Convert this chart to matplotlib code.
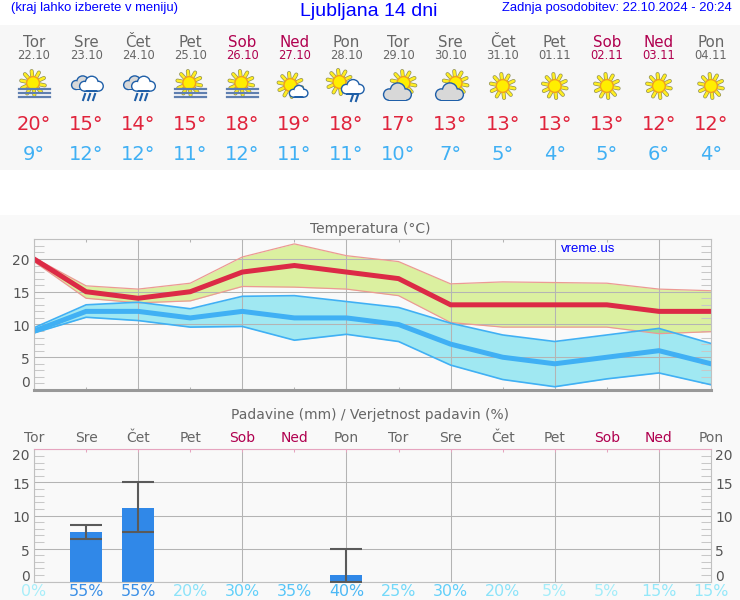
import matplotlib
matplotlib.use("Agg")
import matplotlib.pyplot as plt
import matplotlib.patches as mpatches
from matplotlib.transforms import ScaledTranslation
import numpy as np

days = ['Tor', 'Sre', 'Čet', 'Pet', 'Sob', 'Ned', 'Pon', 'Tor', 'Sre', 'Čet', 'Pet', 'Sob', 'Ned', 'Pon']
dates = ['22.10', '23.10', '24.10', '25.10', '26.10', '27.10', '28.10',
         '29.10', '30.10', '31.10', '01.11', '02.11', '03.11', '04.11']
icons = ['fog', 'rain', 'rain', 'fog', 'fog', 'suncloud', 'sunrain',
         'cloudsun', 'cloudsun', 'sun', 'sun', 'sun', 'sun', 'sun']

tmax = [20, 15, 14, 15, 18, 19, 18, 17, 13, 13, 13, 13, 12, 12]
tmin = [9, 12, 12, 11, 12, 11, 11, 10, 7, 5, 4, 5, 6, 4]
tmax_hi = [20.2, 15.9, 15.4, 16.3, 20.3, 22.3, 20.5, 19.6, 16.2, 16.5, 16.4, 16.3, 15.4, 15.15]
tmax_lo = [19.6, 14.0, 13.3, 13.6, 15.8, 15.7, 15.4, 14.4, 10.3, 9.6, 9.6, 9.6, 8.6, 8.9]
tmin_hi = [9.5, 13.0, 13.4, 12.4, 14.3, 14.4, 13.5, 12.6, 10.2, 8.4, 7.4, 8.4, 9.4, 7.1]
tmin_lo = [8.7, 11.1, 10.6, 9.6, 9.7, 7.6, 8.5, 7.4, 3.8, 1.6, 0.5, 1.7, 2.6, 0.8]

rain = [0, 7.5, 11.2, 0, 0, 0, 1, 0, 0, 0, 0, 0, 0, 0]
rain_idx = [1, 2, 6]
rain_low = [6.5, 7.5, 0]
rain_high = [8.5, 15, 5]
prob = [0, 55, 55, 20, 30, 35, 40, 25, 30, 20, 5, 5, 15, 15]
prob_col = {0: '#a8eef9', 5: '#a4edf9', 15: '#94e8f9', 20: '#8be3f9', 25: '#72d9fa',
            30: '#62d0fa', 35: '#56c5f8', 40: '#4cb8f5', 55: '#3a8fe6'}

DAY_GREY = '#666666'
WEEKEND = '#b0004f'
BLUE = '#0000ff'
x_px = 34 + np.arange(14) * 677 / 13

fig = plt.figure(figsize=(7.4, 6), dpi=100, facecolor='white')

# page background, header and icons are drawn in pixel coordinates
bg = fig.add_axes([0, 0, 1, 1], zorder=0)
bg.set_xlim(0, 740)
bg.set_ylim(600, 0)
bg.axis('off')
bg.add_patch(mpatches.Rectangle((0, 25), 740, 145, color='#f7f7f7', lw=0))
bg.add_patch(mpatches.Rectangle((0, 215), 740, 385, color='#f9f9f9', lw=0))

bg.text(11, 8.5, '(kraj lahko izberete v meniju)', color=BLUE, fontsize=9.4,
        family='Liberation Sans', va='center')
bg.text(369, 11, 'Ljubljana 14 dni', color=BLUE, fontsize=14,
        family='Liberation Sans', va='center', ha='center')
bg.text(732, 8.5, 'Zadnja posodobitev: 22.10.2024 - 20:24', color=BLUE, fontsize=9.4,
        family='Liberation Sans', va='center', ha='right')


def sun(cx, cy, r=6, ray=12):
    for a in np.arange(0, 2 * np.pi, 2 * np.pi / 10) + 0.2:
        xs = [cx + r * np.cos(a), cx + ray * np.cos(a)]
        ys = [cy + r * np.sin(a), cy + ray * np.sin(a)]
        bg.plot(xs, ys, color='#8f8f55', lw=2.9, solid_capstyle='round', zorder=3)
        bg.plot(xs, ys, color='#ffee22', lw=1.9, solid_capstyle='round', zorder=3.1)
    bg.add_patch(mpatches.Circle((cx, cy), r + 0.4, fc='#ffee00', ec='#f0a020', lw=1, zorder=3.2))


def cloud(cx, cy, w, fc='white', ec='#1f5fa8', z=4):
    lobes = [(-0.3, 0.1, 0.2), (0.03, -0.06, 0.27), (0.33, 0.1, 0.2)]
    for dx, dy, r in lobes:
        bg.add_patch(mpatches.Circle((cx + dx * w, cy + dy * w), r * w + 1.2, fc=ec, lw=0, zorder=z))
    bg.add_patch(mpatches.Rectangle((cx - 0.3 * w, cy + 0.1 * w), 0.63 * w, 0.2 * w + 1.2, fc=ec, lw=0, zorder=z))
    for dx, dy, r in lobes:
        bg.add_patch(mpatches.Circle((cx + dx * w, cy + dy * w), r * w - 0.2, fc=fc, lw=0, zorder=z + 0.1))
    bg.add_patch(mpatches.Rectangle((cx - 0.3 * w, cy + 0.1 * w), 0.63 * w, 0.2 * w - 0.2, fc=fc, lw=0, zorder=z + 0.1))


def drops(cx, cy, n):
    for k in range(n):
        x0 = cx + (k - (n - 1) / 2) * 5
        bg.plot([x0 + 1, x0 - 1], [cy, cy + 6], color='#1f5fa8', lw=1.5, zorder=5)


def icon(kind, x):
    if kind == 'sun':
        sun(x, 86)
    elif kind == 'fog':
        sun(x - 1, 83)
        for y in [89, 93, 97]:
            bg.plot([x - 15, x + 16], [y, y], color='#5f7fb0', lw=1.6, zorder=4)
    elif kind == 'rain':
        cloud(x - 4, 83, 20, fc='#d8d8d8', z=3)
        cloud(x + 5, 84, 22, z=4)
        drops(x + 3, 94, 3)
    elif kind == 'suncloud':
        sun(x - 4, 85)
        cloud(x + 4, 91.5, 17)
    elif kind == 'sunrain':
        sun(x - 7, 82)
        cloud(x + 6, 87, 21)
        drops(x + 8, 95, 2)
    elif kind == 'cloudsun':
        sun(x + 5, 83)
        cloud(x - 1.5, 92, 26, fc='#d8d8d8')


for i, x in enumerate(x_px):
    col = WEEKEND if days[i] in ('Sob', 'Ned') else DAY_GREY
    bg.text(x, 42.5, days[i], color=col, fontsize=10.8, ha='center', va='center')
    bg.text(x, 55.5, dates[i], color=col, fontsize=8.3, ha='center', va='center')
    icon(icons[i], x)
    bg.text(x, 124, '%d°' % tmax[i], color='#e0243c', fontsize=14, ha='center', va='center')
    bg.text(x, 154, '%d°' % tmin[i], color='#40b0f4', fontsize=14, ha='center', va='center')

bg.text(370, 229, 'Temperatura (°C)', color=DAY_GREY, fontsize=10, ha='center', va='center')
bg.text(370, 415, 'Padavine (mm) / Verjetnost padavin (%)', color=DAY_GREY, fontsize=10, ha='center', va='center')


def style_axis(ax, spine_col):
    ax.set_facecolor('#f9f9f9')
    ax.set_xlim(0, 13)
    ax.set_xticks(range(14))
    ax.grid(True, color='#b4b4b4', lw=0.75)
    for k, line in enumerate(ax.get_xgridlines()):
        line.set_visible(k % 2 == 0)
    for s in ax.spines.values():
        s.set_color('#c0c0c0')
        s.set_linewidth(0.8)
    ax.spines['top'].set_color(spine_col)
    ax.tick_params(axis='y', which='major', length=0, labelsize=10, labelcolor='#555555', pad=3)
    ax.tick_params(axis='y', which='minor', direction='in', length=7.5, color='#c8c8c8', width=0.75,
                   left=True, right=True)
    ax.tick_params(axis='x', direction='in', length=2.5, color=spine_col, width=0.75)


def nudge(label, dy_px):
    # move a tick label down by a few pixels
    label.set_transform(label.get_transform() + ScaledTranslation(0, -dy_px / 100, fig.dpi_scale_trans))


# temperature
ax1 = fig.add_axes([34 / 740, (600 - 390) / 600, 677 / 740, 150.7 / 600], zorder=2)
x = np.arange(14)
ax1.set_ylim(0, 23)
ax1.set_yticks([0, 5, 10, 15, 20])
ax1.set_yticks([v for v in range(0, 23) if v % 5], minor=True)
style_axis(ax1, '#c0c0c0')
ax1.set_xticklabels([])
ax1.tick_params(axis='x', top=True, bottom=True, color='#b4b4b4')
ax1.fill_between(x, tmax_lo, tmax_hi, color='#dbf0a0', lw=0)
ax1.fill_between(x, tmin_lo, tmin_hi, color='#a0e8f2', lw=0)
ax1.fill_between(x, tmax_lo, tmin_hi, where=np.array(tmin_hi) > np.array(tmax_lo), interpolate=True,
                 color='#98e09c', lw=0)
ax1.plot(x, tmax_hi, color='#ec9a94', lw=0.9)
ax1.plot(x, tmax_lo, color='#ec9a94', lw=0.9)
ax1.plot(x, tmin_hi, color='#40b0f4', lw=1.2)
ax1.plot(x, tmin_lo, color='#40b0f4', lw=1.2)
ax1.plot(x, tmin, color='#40b0f4', lw=3.6, solid_joinstyle='miter')
ax1.plot(x, tmax, color='#dc2a46', lw=3.6, solid_joinstyle='miter')
ax1.spines['bottom'].set_color('#999999')
ax1.spines['bottom'].set_linewidth(2.2)
ax1.get_yticklabels()[0].set_verticalalignment('bottom')
for lab in ax1.get_yticklabels()[1:]:
    nudge(lab, 1)
ax1.text(561, 249, 'vreme.us', color=BLUE, fontsize=9.5, family='Liberation Sans', va='center',
         transform=bg.transData, zorder=10)

# precipitation
ax2 = fig.add_axes([34 / 740, (600 - 581.7) / 600, 677 / 740, 132.4 / 600], zorder=2)
ax2.set_ylim(0, 20)
ax2.set_yticks([0, 5, 10, 15, 20])
ax2.set_yticks([v for v in range(0, 20) if v % 5], minor=True)
style_axis(ax2, '#e6a4bf')
ax2.tick_params(axis='y', which='major', labelleft=True, labelright=True)
ax2.tick_params(axis='x', top=True, bottom=False, labeltop=True, labelbottom=False,
                labelsize=10, pad=3)
ax2.set_xticklabels(days)
for lab, d in zip(ax2.get_xticklabels(), days):
    lab.set_color(WEEKEND if d in ('Sob', 'Ned') else DAY_GREY)
ax2.bar(x, rain, width=32 / 52.08, color='#3088e8', zorder=2)
rain_y = np.array(rain)[rain_idx]
ax2.errorbar(rain_idx, rain_y, yerr=[rain_y - np.array(rain_low), np.array(rain_high) - rain_y],
             fmt='none', ecolor='#5a5a5a', elinewidth=1.5, capsize=11.5, capthick=1.5, zorder=3)
ticks = ax2.yaxis.get_major_ticks()
for k, tick in enumerate(ticks):
    for lab in (tick.label1, tick.label2):
        if k == 0:
            lab.set_verticalalignment('bottom')
            nudge(lab, 2)
        elif k == 4:
            lab.set_verticalalignment('top')
        else:
            nudge(lab, 1.5)
for i, p in enumerate(prob):
    ax2.text(i, -10 / 132.4, '%d%%' % p, color=prob_col[p], fontsize=11.4, ha='center', va='center',
             transform=ax2.get_xaxis_transform(), clip_on=False)

fig.savefig('out.png', dpi=100)
